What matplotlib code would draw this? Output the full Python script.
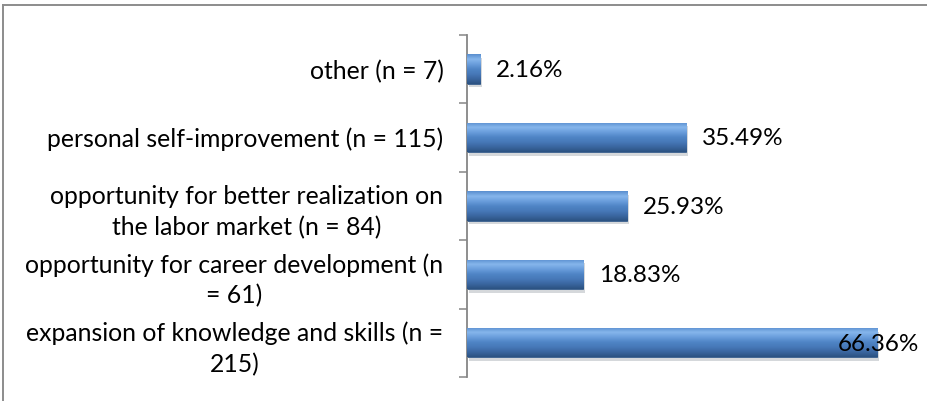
import numpy as np
import matplotlib
matplotlib.use("Agg")
import matplotlib.pyplot as plt
from matplotlib.lines import Line2D
from matplotlib import patheffects as pe
from matplotlib.colors import LinearSegmentedColormap

# data, bottom to top as drawn
categories = [
    "expansion of knowledge and skills (n =\n215)",
    "opportunity for career development (n\n= 61)",
    "opportunity for better realization on\nthe labor market (n = 84)",
    "personal self-improvement (n = 115)",
    "other (n = 7)",
]
values = [66.36, 18.83, 25.93, 35.49, 2.16]
value_labels = ["66.36%", "18.83%", "25.93%", "35.49%", "2.16%"]

plt.rcParams['font.family'] = ['Lato', 'DejaVu Sans']
FS = 17.5

fig = plt.figure(figsize=(9.27, 4.01), dpi=100)
ax = fig.add_axes([0.5038, 0.0599, 0.4667, 0.8529])

y = np.arange(len(categories))
bar_h = 0.43
bars = ax.barh(y, values, height=bar_h, color="#4f81bd", edgecolor="#385d8a",
               linewidth=0.6, zorder=2,
               path_effects=[pe.SimplePatchShadow(offset=(1.5, -2.5), alpha=0.18), pe.Normal()])

# vertical shading like the excel bevel look
cmap = LinearSegmentedColormap.from_list(
    "bevel", ["#2c5282", "#3a66a0", "#4779b8", "#4f85c6", "#6a9edc", "#86b6ec", "#5a8fcf"])
grad = np.linspace(0, 1, 64).reshape(-1, 1)
for b in bars:
    x0, y0 = b.get_x(), b.get_y()
    w, h = b.get_width(), b.get_height()
    im = ax.imshow(grad, extent=[x0, x0 + w, y0, y0 + h], origin="lower",
                   aspect="auto", cmap=cmap, zorder=3, interpolation="bilinear")
    im.set_clip_path(b)

for v, yy, lab in zip(values, y, value_labels):
    if v > 60:
        ax.annotate(lab, (v, yy), xytext=(30, -1), textcoords="offset points",
                    ha="right", va="center", fontsize=FS, color="black", zorder=5)
    else:
        ax.annotate(lab, (v, yy), xytext=(11, -1), textcoords="offset points",
                    ha="left", va="center", fontsize=FS, color="black", zorder=5)

ax.set_xlim(0, 70)
ax.set_ylim(-0.5, len(categories) - 0.5)
ax.set_yticks(y)
ax.set_yticklabels(categories, fontsize=17.8, multialignment="center", linespacing=1.4)
ax.set_yticks(np.arange(-0.5, len(categories), 1.0), minor=True)
ax.tick_params(axis="y", which="major", length=0, pad=17)
ax.tick_params(axis="y", which="minor", length=6, width=1.1, color="#868686")
ax.xaxis.set_visible(False)
for s in ["top", "right", "bottom"]:
    ax.spines[s].set_visible(False)
ax.spines["left"].set_color("#868686")
ax.spines["left"].set_linewidth(1.3)

# chart area border
fig.add_artist(Line2D([3 / 927, 3 / 927], [0, 1 - 5 / 401], color="#8c8c8c", lw=1.4))
fig.add_artist(Line2D([3 / 927, 1], [1 - 5 / 401, 1 - 5 / 401], color="#8c8c8c", lw=1.4))

fig.savefig("out.png", dpi=100)
